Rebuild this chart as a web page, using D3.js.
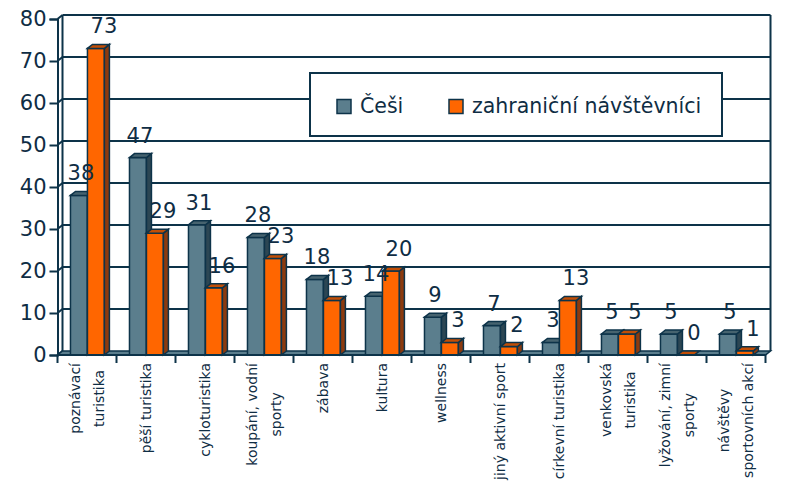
<!DOCTYPE html>
<html><head><meta charset="utf-8">
<script src="https://cdn.jsdelivr.net/npm/d3@7"></script>
<style>
html,body{margin:0;padding:0;background:#fff;}
svg{display:block;}
text{font-family:"DejaVu Sans",Verdana,sans-serif;fill:#0f2d44;}
</style></head>
<body>
<svg id="chart" width="790" height="486"></svg>
<script>
const categories = ["poznávací\nturistika","pěší turistika","cykloturistika","koupání, vodní\nsporty","zábava","kultura","wellness","jiný aktivní sport","církevní turistika","venkovská\nturistika","lyžování, zimní\nsporty","návštěvy\nsportovních akcí"];
const seriesNames = ["Češi","zahraniční návštěvníci"];
const cesi = [38,47,31,28,18,14,9,7,3,5,5,5];
const zahranicni = [73,29,16,23,13,20,3,2,13,5,0,1];
const yTicks = [0,10,20,30,40,50,60,70,80];

const seriesValues = [cesi, zahranicni];
const colors = [
  {front:"#5b7e8d", side:"#2c4653", top:"#46636f"},
  {front:"#ff6600", side:"#8c3a0e", top:"#c24e06"}
];
const ink = "#0d3349";
const DX = 5, DY = 4;
const labelShift = [2, 8];

const svg = d3.select("#chart");
const x = d3.scaleBand().domain(d3.range(categories.length)).range([57.5, 765.5]);
const inner = d3.scaleBand().domain([0,1]).range([x.bandwidth()*0.22, x.bandwidth()*0.795]);
const y = d3.scaleLinear().domain([0,80]).range([355,19]);
const left = x.range()[0], right = x.range()[1];

// back wall gridlines
const g = svg.append("g");
g.selectAll("line.grid").data(yTicks.slice(1)).join("line")
  .attr("x1", left+DX).attr("x2", right+DX)
  .attr("y1", d=>y(d)-DY).attr("y2", d=>y(d)-DY)
  .attr("stroke", ink).attr("stroke-width", 2);
g.append("line").attr("x1", right+DX).attr("x2", right+DX)
  .attr("y1", y(80)-DY).attr("y2", y(0)-DY).attr("stroke", ink).attr("stroke-width", 2);
g.append("line").attr("x1", left+DX).attr("x2", left+DX)
  .attr("y1", y(80)-DY).attr("y2", y(0)-DY).attr("stroke", ink).attr("stroke-width", 2);
g.selectAll("line.diag").data(yTicks).join("line")
  .attr("x1", left).attr("x2", left+DX)
  .attr("y1", d=>y(d)).attr("y2", d=>y(d)-DY)
  .attr("stroke", ink).attr("stroke-width", 2);
g.append("polygon")
  .attr("points", [[left,y(0)],[right,y(0)],[right+DX,y(0)-DY],[left+DX,y(0)-DY]].map(p=>p.join(",")).join(" "))
  .attr("fill", "#5b7e8d").attr("stroke", ink).attr("stroke-width", 1.5);

// y axis
const yAxis = d3.axisLeft(y).tickValues(yTicks).tickSize(8).tickPadding(3).tickFormat(d3.format("d"));
const ya = svg.append("g").attr("transform", `translate(${left},0)`).call(yAxis);
ya.select(".domain").attr("stroke", ink).attr("stroke-width", 2);
ya.selectAll(".tick line").attr("stroke", ink).attr("stroke-width", 2);
ya.selectAll(".tick text").attr("font-size", 21).attr("fill", "#0f2d44")
  .attr("font-family", "DejaVu Sans, Verdana, sans-serif");

// legend
const lg = svg.append("g");
lg.append("rect").attr("x", 310).attr("y", 73).attr("width", 412).attr("height", 63)
  .attr("fill", "#fff").attr("stroke", ink).attr("stroke-width", 2);
const legX = [337, 449];
seriesNames.forEach((n,i)=>{
  lg.append("rect").attr("x", legX[i]).attr("y", 99.5).attr("width", 14).attr("height", 14)
    .attr("fill", colors[i].front).attr("stroke", ink).attr("stroke-width", 1.5);
  lg.append("text").attr("x", legX[i]+23).attr("y", 113).attr("font-size", 20.5).text(n);
});

// bars
const bars = svg.append("g");
const labels = svg.append("g");
categories.forEach((c,i)=>{
  [0,1].forEach(s=>{
    const v = seriesValues[s][i];
    const x0 = x(i) + inner(s), w = inner.bandwidth();
    const yt = y(v), yb = y(0);
    const col = colors[s];
    const pts = a => a.map(p=>p.join(",")).join(" ");
    if (v > 0) {
      bars.append("rect").attr("x", x0).attr("y", yt).attr("width", w).attr("height", yb-yt)
        .attr("fill", col.front).attr("stroke", ink).attr("stroke-width", 1.5);
      bars.append("polygon").attr("points", pts([[x0+w,yt],[x0+w+DX,yt-DY],[x0+w+DX,yb-DY],[x0+w,yb]]))
        .attr("fill", col.side).attr("stroke", ink).attr("stroke-width", 1.5);
    }
    bars.append("polygon").attr("points", pts([[x0,yt],[x0+DX,yt-DY],[x0+w+DX,yt-DY],[x0+w,yt]]))
      .attr("fill", col.top).attr("stroke", ink).attr("stroke-width", 1.5);
    labels.append("text").attr("x", x0 + w/2 + labelShift[s]).attr("y", yt - 15)
      .attr("text-anchor", "middle").attr("font-size", 21).text(v);
  });
});

// x axis ticks
const xt = svg.append("g");
xt.selectAll("line").data(d3.range(categories.length+1)).join("line")
  .attr("x1", d=>left + d*x.step()).attr("x2", d=>left + d*x.step())
  .attr("y1", y(0)).attr("y2", y(0)+8).attr("stroke", ink).attr("stroke-width", 2);
xt.append("line").attr("x1", left).attr("x2", right).attr("y1", y(0)).attr("y2", y(0))
  .attr("stroke", ink).attr("stroke-width", 2);

// category labels
categories.forEach((c,i)=>{
  const lines = c.split("\n");
  const cx = x(i) + x.bandwidth()/2;
  const n = lines.length;
  const grp = svg.append("g");
  const texts = lines.map((ln,k)=>{
    const bx = cx + 5 + (k - (n-1)/2)*24;
    return grp.append("text").attr("font-size", 14).attr("text-anchor","middle")
      .attr("data-bx", bx).text(ln);
  });
  const maxLen = d3.max(texts, t=>t.node().getComputedTextLength());
  texts.forEach(t=>{
    const bx = +t.attr("data-bx");
    t.attr("transform", `translate(${bx},${363 + maxLen/2}) rotate(-90)`);
  });
});
</script>
</body></html>
